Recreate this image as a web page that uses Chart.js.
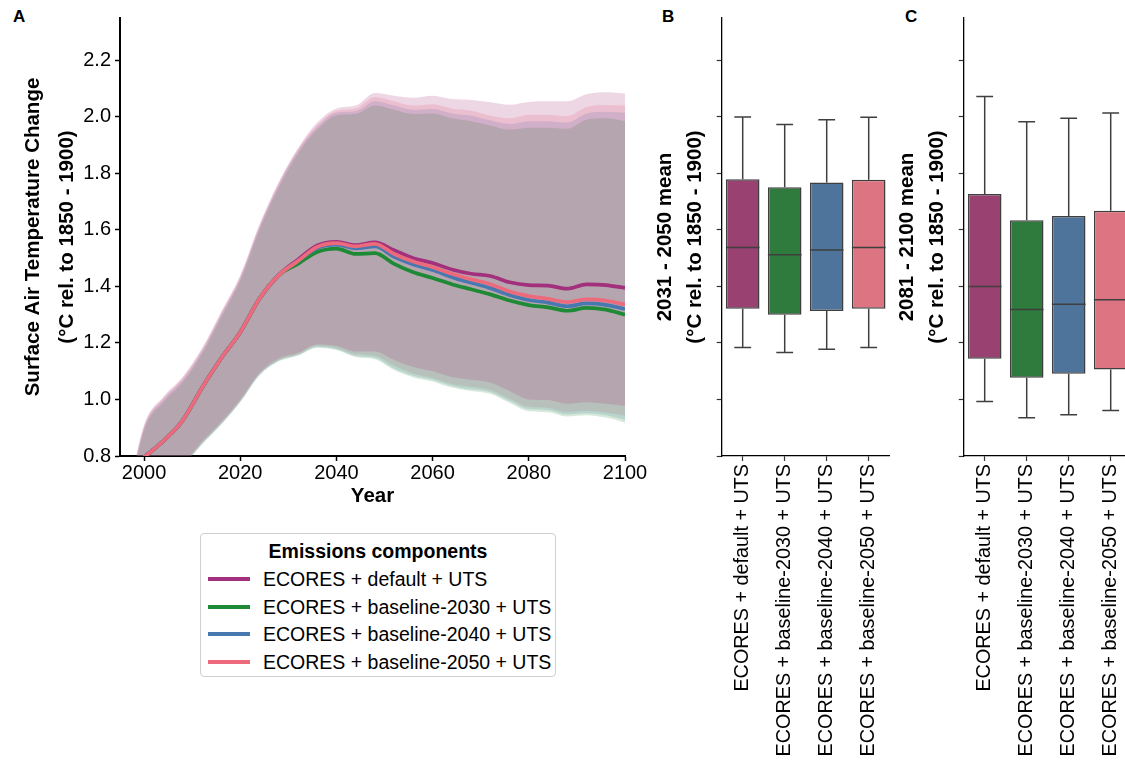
<!DOCTYPE html>
<html>
<head>
<meta charset="utf-8">
<script src="https://cdn.jsdelivr.net/npm/chart.js@4.4.1/dist/chart.umd.min.js"></script>
<style>
  body { margin: 0; width: 1125px; height: 762px; overflow: hidden; background: #fff; position: relative;
         font-family: 'Liberation Sans', Arial, sans-serif; color: #000; }
  canvas { position: absolute; top: 0; }
  .tag { position: absolute; top: 7px; font-weight: bold; font-size: 17px; }
  #legend { position: absolute; left: 200px; top: 533px; width: 356px; height: 144px; box-sizing: border-box;
            border: 1px solid #d0d0d0; border-radius: 4px; }
  #legend .ttl { position: absolute; left: 0; width: 100%; top: 6px; text-align: center; font-weight: bold; font-size: 19.5px; }
  #legend .row { position: absolute; left: 0; height: 22px; font-size: 19.5px; line-height: 22px; white-space: nowrap; }
  #legend .sw { position: absolute; left: 7px; top: 9px; width: 42px; height: 4px; }
  #legend .txt { position: absolute; left: 62px; top: 0; }
</style>
</head>
<body>
<div class="tag" style="left:13px">A</div>
<div class="tag" style="left:662px">B</div>
<div class="tag" style="left:905px">C</div>
<canvas id="chartA" width="650" height="520" style="left:0"></canvas>
<canvas id="chartB" width="260" height="762" style="left:640px"></canvas>
<canvas id="chartC" width="260" height="762" style="left:882px"></canvas>
<div id="legend"></div>

<script>
// ---- data ----
const scenarioNames = ['ECORES + default + UTS', 'ECORES + baseline-2030 + UTS', 'ECORES + baseline-2040 + UTS', 'ECORES + baseline-2050 + UTS'];
const years = [1996, 2000, 2004, 2008, 2012, 2016, 2020, 2024, 2028, 2032, 2036, 2040, 2044, 2048, 2052, 2056, 2060, 2064, 2068, 2072, 2076, 2080, 2084, 2088, 2092, 2096, 2100];
const xTicks = [2000, 2020, 2040, 2060, 2080, 2100];
const yTicks = [0.8, 1.0, 1.2, 1.4, 1.6, 1.8, 2.0, 2.2];

// median warming per scenario
const meanDefault = [0.73, 0.795, 0.853, 0.925, 1.04, 1.145, 1.238, 1.357, 1.44, 1.495, 1.545, 1.558, 1.546, 1.556, 1.528, 1.50, 1.483, 1.46, 1.445, 1.437, 1.415, 1.405, 1.403, 1.392, 1.407, 1.405, 1.395];
const mean2030 = [0.73, 0.795, 0.853, 0.925, 1.04, 1.145, 1.238, 1.357, 1.44, 1.48, 1.522, 1.534, 1.515, 1.518, 1.48, 1.45, 1.43, 1.408, 1.39, 1.372, 1.35, 1.334, 1.326, 1.314, 1.324, 1.318, 1.30];
const mean2040 = [0.73, 0.795, 0.853, 0.925, 1.04, 1.145, 1.238, 1.357, 1.44, 1.49, 1.536, 1.548, 1.535, 1.542, 1.505, 1.478, 1.458, 1.433, 1.413, 1.394, 1.37, 1.352, 1.343, 1.33, 1.34, 1.335, 1.32];
const mean2050 = [0.73, 0.795, 0.853, 0.925, 1.04, 1.145, 1.238, 1.357, 1.44, 1.49, 1.54, 1.553, 1.542, 1.551, 1.515, 1.488, 1.468, 1.445, 1.425, 1.408, 1.382, 1.366, 1.356, 1.345, 1.354, 1.35, 1.336];

// uncertainty range per scenario
const upperDefault = [0.61, 0.91, 1.01, 1.08, 1.18, 1.31, 1.44, 1.62, 1.77, 1.89, 1.98, 2.03, 2.04, 2.085, 2.075, 2.068, 2.075, 2.063, 2.06, 2.052, 2.043, 2.053, 2.055, 2.055, 2.08, 2.087, 2.083];
const lowerDefault = [0.56, 0.64, 0.70, 0.77, 0.85, 0.92, 1.0, 1.095, 1.145, 1.165, 1.195, 1.19, 1.17, 1.17, 1.14, 1.115, 1.10, 1.08, 1.07, 1.06, 1.03, 1.0, 0.998, 0.985, 0.99, 0.985, 0.977];
const upper2030 = [0.58, 0.89, 0.99, 1.06, 1.16, 1.29, 1.42, 1.6, 1.75, 1.87, 1.955, 2.005, 2.01, 2.04, 2.025, 2.01, 2.012, 1.995, 1.985, 1.97, 1.955, 1.962, 1.962, 1.958, 1.99, 1.995, 1.985];
const lower2030 = [0.55, 0.63, 0.69, 0.76, 0.84, 0.91, 0.99, 1.085, 1.135, 1.155, 1.183, 1.175, 1.15, 1.142, 1.104, 1.078, 1.064, 1.042, 1.03, 1.02, 0.988, 0.958, 0.955, 0.94, 0.944, 0.936, 0.918];
const upper2040 = [0.59, 0.9, 1.0, 1.07, 1.17, 1.3, 1.43, 1.61, 1.76, 1.88, 1.965, 2.015, 2.02, 2.055, 2.04, 2.025, 2.028, 2.012, 2.004, 1.988, 1.975, 1.985, 1.985, 1.98, 2.012, 2.018, 2.015];
const lower2040 = [0.552, 0.632, 0.692, 0.762, 0.842, 0.912, 0.992, 1.087, 1.137, 1.157, 1.186, 1.178, 1.154, 1.148, 1.11, 1.084, 1.07, 1.048, 1.036, 1.026, 0.995, 0.966, 0.962, 0.947, 0.951, 0.944, 0.928];
const upper2050 = [0.6, 0.905, 1.005, 1.075, 1.175, 1.305, 1.435, 1.615, 1.765, 1.885, 1.972, 2.022, 2.03, 2.07, 2.055, 2.04, 2.045, 2.03, 2.022, 2.005, 1.995, 2.008, 2.008, 2.003, 2.035, 2.042, 2.04];
const lower2050 = [0.555, 0.635, 0.695, 0.765, 0.845, 0.915, 0.995, 1.09, 1.14, 1.16, 1.19, 1.183, 1.16, 1.155, 1.12, 1.092, 1.076, 1.055, 1.045, 1.034, 1.003, 0.974, 0.97, 0.956, 0.96, 0.953, 0.943];

// box plots, 2031-2050 mean (panel B)
const midLow = [1.184, 1.166, 1.178, 1.184];
const midQ1 = [1.321, 1.300, 1.313, 1.321];
const midMed = [1.538, 1.512, 1.529, 1.538];
const midQ3 = [1.779, 1.751, 1.768, 1.778];
const midHigh = [2.000, 1.973, 1.990, 1.999];

// box plots, 2081-2100 mean (panel C)
const endLow = [0.993, 0.935, 0.946, 0.961];
const endQ1 = [1.144, 1.077, 1.091, 1.106];
const endMed = [1.400, 1.318, 1.337, 1.353];
const endQ3 = [1.727, 1.634, 1.649, 1.668];
const endHigh = [2.072, 1.983, 1.995, 2.014];

// ---- styles ----
const FONT = "'Liberation Sans', Arial, sans-serif";
const lineColors = ['#a2307c', '#1f8a36', '#4878b0', '#ec6a7c'];
const boxColors = ['#994272', '#2e7b3d', '#4e749c', '#dc7482'];
const bandColors = ['rgba(168,55,125,0.2)', 'rgba(45,140,65,0.2)', 'rgba(80,125,175,0.2)', 'rgba(238,105,120,0.2)'];

Chart.defaults.font.family = FONT;
Chart.defaults.color = '#000';

const pts = arr => years.map((x, i) => ({ x, y: arr[i] }));

// band = invisible upper edge + lower edge filled up to it
function band(upper, lower, color) {
    return [
        { data: pts(upper), borderWidth: 0, pointRadius: 0, fill: false, order: 5, cubicInterpolationMode: 'monotone', clip: 0 },
        { data: pts(lower), borderWidth: 0, pointRadius: 0, fill: '-1', backgroundColor: color, order: 5, cubicInterpolationMode: 'monotone', clip: 0 },
    ];
}
function meanLine(arr, color, order) {
    return { data: pts(arr), borderColor: color, backgroundColor: color, borderWidth: 3.7, pointRadius: 0,
             fill: false, order, cubicInterpolationMode: 'monotone', clip: 0 };
}

new Chart(document.getElementById('chartA'), {
    type: 'line',
    data: {
        datasets: [
            ...band(upperDefault, lowerDefault, bandColors[0]),
            ...band(upper2030, lower2030, bandColors[1]),
            ...band(upper2040, lower2040, bandColors[2]),
            ...band(upper2050, lower2050, bandColors[3]),
            meanLine(meanDefault, lineColors[0], 3),
            meanLine(mean2030, lineColors[1], 2),
            meanLine(mean2040, lineColors[2], 1),
            meanLine(mean2050, lineColors[3], 0),
        ]
    },
    options: {
        responsive: false, animation: false,
        layout: { padding: { left: 0, top: 18, right: 25, bottom: 0 } },
        plugins: { legend: { display: false }, tooltip: { enabled: false } },
        scales: {
            x: {
                type: 'linear', min: 1995, max: 2100,
                afterBuildTicks: s => { s.ticks = xTicks.map(v => ({ value: v })); },
                afterFit: s => { s.height = 64; },
                ticks: { font: { size: 20 }, padding: 0, maxRotation: 0, callback: v => String(v) },
                grid: { drawOnChartArea: false, tickLength: 5, tickWidth: 1.5, color: '#000' },
                border: { color: '#000', width: 2 },
                title: { display: true, text: 'Year', font: { size: 20.5, weight: 'bold' }, padding: { top: 0, bottom: 11 } }
            },
            y: {
                min: 0.8, max: 2.35,
                afterBuildTicks: s => { s.ticks = yTicks.map(v => ({ value: v })); },
                afterFit: s => { s.width = 120; },
                ticks: { font: { size: 20 }, padding: 4, callback: v => v.toFixed(1) },
                grid: { drawOnChartArea: false, tickLength: 5, tickWidth: 1.5, color: '#000' },
                border: { color: '#000', width: 2 },
                title: { display: true, text: ['Surface Air Temperature Change', '(°C rel. to 1850 - 1900)'],
                         font: { size: 20.5, weight: 'bold', lineHeight: 1.66 }, padding: { top: 16, bottom: 0 } }
            }
        }
    }
});

// whiskers, caps and median drawn through the chart's own scales
const boxWhiskers = {
    id: 'boxWhiskers',
    afterDatasetsDraw(chart, args, opts) {
        const { ctx, scales: { y } } = chart;
        const meta = chart.getDatasetMeta(0);
        ctx.save();
        ctx.strokeStyle = '#3f3f3f';
        ctx.lineWidth = 1.5;
        meta.data.forEach((bar, i) => {
            const cx = bar.x, hw = bar.width / 2, cw = bar.width * 0.25;
            const pLow = y.getPixelForValue(opts.low[i]);
            const pHigh = y.getPixelForValue(opts.high[i]);
            const pQ1 = y.getPixelForValue(opts.q1[i]);
            const pQ3 = y.getPixelForValue(opts.q3[i]);
            const pMed = y.getPixelForValue(opts.med[i]);
            ctx.beginPath();
            ctx.moveTo(cx, pQ3); ctx.lineTo(cx, pHigh);
            ctx.moveTo(cx - cw, pHigh); ctx.lineTo(cx + cw, pHigh);
            ctx.moveTo(cx, pQ1); ctx.lineTo(cx, pLow);
            ctx.moveTo(cx - cw, pLow); ctx.lineTo(cx + cw, pLow);
            ctx.moveTo(cx - hw, pMed); ctx.lineTo(cx + hw, pMed);
            ctx.stroke();
        });
        ctx.restore();
    }
};

function boxChart(id, titleTop, low, q1, med, q3, high) {
    return new Chart(document.getElementById(id), {
        type: 'bar',
        data: {
            labels: scenarioNames,
            datasets: [{
                data: q1.map((v, i) => [v, q3[i]]),
                backgroundColor: boxColors, borderColor: '#3f3f3f', borderWidth: 1.5, borderSkipped: false,
                barPercentage: 0.8, categoryPercentage: 1
            }]
        },
        options: {
            responsive: false, animation: false,
            layout: { padding: { left: 0, top: 18, right: 10.3, bottom: 0 } },
            plugins: { legend: { display: false }, tooltip: { enabled: false }, boxWhiskers: { low, q1, med, q3, high } },
            scales: {
                x: {
                    afterFit: s => { s.height = 306; },
                    ticks: { font: { size: 19.8 }, minRotation: 90, maxRotation: 90, autoSkip: false, padding: 3 },
                    grid: { drawOnChartArea: false, offset: false, tickLength: 5, tickWidth: 1.2, color: '#333' },
                    border: { color: '#000', width: 1.3 }
                },
                y: {
                    min: 0.8, max: 2.35,
                    afterBuildTicks: s => { s.ticks = yTicks.map(v => ({ value: v })); },
                    afterFit: s => { s.width = 81.7; },
                    ticks: { padding: 0, callback: () => '' },
                    grid: { drawOnChartArea: false, tickLength: 5, tickWidth: 1.2, color: '#333' },
                    border: { color: '#000', width: 1.3 },
                    title: { display: true, text: [titleTop, '(°C rel. to 1850 - 1900)'],
                             font: { size: 20.5, weight: 'bold', lineHeight: 1.46 }, padding: { top: 10, bottom: 0 } }
                }
            }
        },
        plugins: [boxWhiskers]
    });
}

boxChart('chartB', '2031 - 2050 mean', midLow, midQ1, midMed, midQ3, midHigh);
boxChart('chartC', '2081 - 2100 mean', endLow, endQ1, endMed, endQ3, endHigh);

// legend for panel A
document.getElementById('legend').innerHTML =
    '<div class="ttl">Emissions components</div>' +
    scenarioNames.map((name, i) => `
    <div class="row" style="top:${34 + i * 27.7}px">
      <span class="sw" style="background:${lineColors[i]}"></span>
      <span class="txt">${name}</span>
    </div>`).join('');
</script>
</body>
</html>
